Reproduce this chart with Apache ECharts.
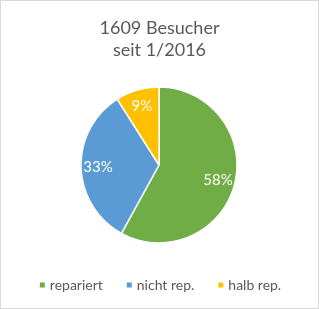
<!DOCTYPE html>
<html><head><meta charset="utf-8">
<script src="https://cdn.jsdelivr.net/npm/echarts@6/dist/echarts.min.js"></script>
<style>
html,body{margin:0;padding:0;background:#fff;}
#c{width:319px;height:309px;box-sizing:border-box;border:1px solid #d9d9d9;}
</style></head><body>
<div id="c"></div>
<script>
var titleLines = ['1609 Besucher', 'seit 1/2016'];
var categories = ['repariert', 'nicht rep.', 'halb rep.'];
var values = [58, 33, 9];
var colors = ['#70AD47', '#5B9BD5', '#FFC000'];

var chart = echarts.init(document.getElementById('c'));
var font = 'Lato, "Open Sans", sans-serif';
var data = categories.map(function(n,i){return {name:n, value:values[i], itemStyle:{color:colors[i]}};});
chart.setOption({
  animation:false,
  title:{text:titleLines.join('\n'), left:'center', top:11,
    textStyle:{fontFamily:font, fontSize:18, fontWeight:'normal', color:'#595959', lineHeight:22}},
  legend:{bottom:11, left:'center', itemWidth:7, itemHeight:7, itemGap:22, icon:'rect',
    textStyle:{fontFamily:font, fontSize:14, color:'#595959', padding:[0,0,0,-1]},
    data:categories},
  series:[
    {type:'pie', center:[158,164], radius:[0,78], startAngle:90, clockwise:true,
     data:data, label:{show:false}, labelLine:{show:false},
     itemStyle:{borderColor:'#fff', borderWidth:1.5}, silent:true},
    {type:'pie', center:[158,164], radius:[38,78], startAngle:90, clockwise:true,
     data:categories.map(function(n,i){return {name:n, value:values[i]};}),
     itemStyle:{color:'rgba(0,0,0,0)'}, silent:true, legendHoverLink:false,
     label:{show:true, position:'inside', formatter:'{c}%', color:'#fff',
       fontFamily:font, fontSize:15}, labelLine:{show:false}}
  ]
});
</script></body></html>
